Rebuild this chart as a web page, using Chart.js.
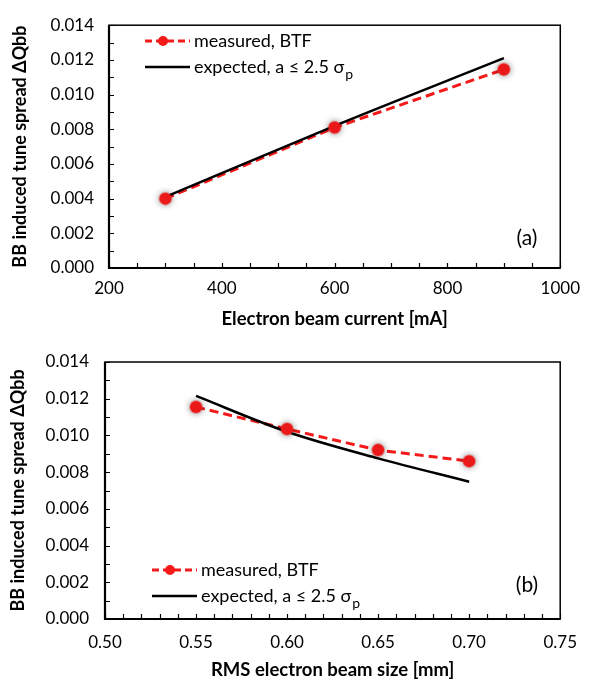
<!DOCTYPE html>
<html>
<head>
<meta charset="utf-8">
<script src="https://cdn.jsdelivr.net/npm/chart.js@4.4.0/dist/chart.umd.min.js"></script>
<style>
  body { margin: 0; background: #fff; }
  canvas { display: block; }
</style>
</head>
<body>
<canvas id="chartA" width="590" height="330"></canvas>
<canvas id="chartB" width="590" height="351"></canvas>
<script>
// ---------- data: panel (a), tune spread vs electron current ----------
const currentA = [300, 600, 900];
const measuredA = [0.0040, 0.0081, 0.01145];
const expectedA = [0.0041, 0.0082, 0.0121];

// ---------- data: panel (b), tune spread vs rms beam size ----------
const sizeB = [0.55, 0.60, 0.65, 0.70];
const measuredB = [0.01155, 0.01035, 0.0092, 0.0086];
const expectedB = [0.01215, 0.0102, 0.00875, 0.00748];

const yTicks = [0, 0.002, 0.004, 0.006, 0.008, 0.010, 0.012, 0.014];
const xTicksA = [200, 400, 600, 800, 1000];
const xTicksB = [0.50, 0.55, 0.60, 0.65, 0.70, 0.75];

const FONT = "Lato, 'Open Sans', sans-serif";
const RED = "#f41a1a";

function pts(xs, ys) {
    return xs.map((x, i) => ({ x: x, y: ys[i] }));
}

// frame, inside ticks, legend and panel label
const framePlugin = {
    id: "frame",
    beforeDatasetDraw(chart, args) {
        if (chart.data.datasets[args.index].glow) {
            const ctx = chart.ctx;
            ctx.save();
            ctx.shadowColor = "rgba(0,0,0,0.45)";
            ctx.shadowBlur = 7;
        }
    },
    afterDatasetDraw(chart, args) {
        if (chart.data.datasets[args.index].glow) chart.ctx.restore();
    },
    afterDraw(chart) {
        const o = chart.options.plugins.frame;
        const ctx = chart.ctx;
        const a = chart.chartArea;
        const xs = chart.scales.x, ys = chart.scales.y;
        ctx.save();
        ctx.strokeStyle = "#000";

        // minor + major ticks, pointing inward
        ctx.lineWidth = 1.2;
        ctx.beginPath();
        for (let v = xs.min; v <= xs.max + 1e-9; v += o.xMinor) {
            const px = Math.round(xs.getPixelForValue(v)) + 0.5;
            ctx.moveTo(px, a.bottom);
            ctx.lineTo(px, a.bottom - 5);
        }
        for (let v = ys.min; v <= ys.max + 1e-9; v += 0.001) {
            const py = Math.round(ys.getPixelForValue(v)) + 0.5;
            ctx.moveTo(a.left, py);
            ctx.lineTo(a.left + 5, py);
        }
        ctx.stroke();

        // plot frame
        ctx.lineWidth = 1.5;
        ctx.strokeRect(a.left, a.top, a.right - a.left, a.bottom - a.top);
        ctx.lineWidth = 2.2;
        ctx.beginPath();
        ctx.moveTo(a.left, a.top);
        ctx.lineTo(a.left, a.bottom);
        ctx.lineTo(a.right, a.bottom);
        ctx.stroke();

        // legend
        const lx = o.legendX, ly = o.legendY;
        ctx.strokeStyle = RED;
        ctx.lineWidth = 3;
        ctx.setLineDash([7, 4]);
        ctx.beginPath();
        ctx.moveTo(lx, ly);
        ctx.lineTo(lx + 45, ly);
        ctx.stroke();
        ctx.setLineDash([]);
        ctx.fillStyle = RED;
        ctx.beginPath();
        ctx.arc(lx + 18, ly, 5, 0, Math.PI * 2);
        ctx.fill();

        ctx.strokeStyle = "#000";
        ctx.lineWidth = 2.5;
        ctx.beginPath();
        ctx.moveTo(lx, ly + 26);
        ctx.lineTo(lx + 45, ly + 26);
        ctx.stroke();

        ctx.fillStyle = "#000";
        ctx.font = "18px " + FONT;
        ctx.textBaseline = "middle";
        ctx.textAlign = "left";
        ctx.fillText("measured, BTF", lx + 49, ly);
        const t2 = "expected, a \u2264 2.5 \u03c3";
        ctx.fillText(t2, lx + 49, ly + 26);
        const w2 = ctx.measureText(t2).width;
        ctx.font = "14px " + FONT;
        ctx.fillText("p", lx + 49 + w2 + 1, ly + 33);

        // panel label
        ctx.font = "21px " + FONT;
        ctx.textAlign = "center";
        ctx.fillText(o.label, o.labelX, o.labelY);
        ctx.restore();
    }
};

function makeChart(id, cfg) {
    return new Chart(document.getElementById(id), {
        type: "scatter",
        data: {
            datasets: [
                {
                    label: "measured, BTF",
                    data: pts(cfg.x, cfg.measured),
                    showLine: true,
                    borderColor: RED,
                    borderWidth: 3,
                    borderDash: [9, 5],
                    pointRadius: 0,
                    order: 3
                },
                {
                    label: "expected",
                    data: pts(cfg.x, cfg.expected),
                    showLine: true,
                    borderColor: "#000",
                    borderWidth: 2.5,
                    pointRadius: 0,
                    cubicInterpolationMode: "monotone",
                    order: 2
                },
                {
                    label: "measured points",
                    data: pts(cfg.x, cfg.measured),
                    showLine: false,
                    glow: true,
                    backgroundColor: RED,
                    borderColor: "rgba(240,40,40,0.35)",
                    borderWidth: 2,
                    pointRadius: 6,
                    order: 1
                }
            ]
        },
        options: {
            responsive: false,
            animation: false,
            layout: { padding: { top: cfg.padTop, right: cfg.padRight, left: 0, bottom: 0 } },
            plugins: {
                legend: { display: false },
                tooltip: { enabled: false },
                frame: cfg.frame
            },
            scales: {
                x: {
                    type: "linear",
                    min: cfg.xTicks[0],
                    max: cfg.xTicks[cfg.xTicks.length - 1],
                    afterBuildTicks: s => { s.ticks = cfg.xTicks.map(v => ({ value: v })); },
                    afterFit: s => { s.height = 62; },
                    grid: { display: false, drawTicks: false },
                    border: { display: false },
                    ticks: {
                        padding: cfg.xPad,
                        color: "#000",
                        font: { family: FONT, size: 17 },
                        callback: v => v.toFixed(cfg.xDigits)
                    },
                    title: {
                        display: true,
                        text: cfg.xTitle,
                        color: "#000",
                        font: { family: FONT, size: 18.5, weight: "bold" },
                        padding: { top: cfg.xTitlePad, bottom: 0 }
                    }
                },
                y: {
                    min: 0,
                    max: 0.014,
                    afterBuildTicks: s => { s.ticks = yTicks.map(v => ({ value: v })); },
                    afterFit: s => { s.width = cfg.yWidth; },
                    grid: { display: false, drawTicks: false },
                    border: { display: false },
                    ticks: {
                        padding: cfg.yPad,
                        color: "#000",
                        font: { family: FONT, size: 17 },
                        callback: v => v.toFixed(3)
                    },
                    title: {
                        display: true,
                        text: "BB induced tune spread \u0394Qbb",
                        color: "#000",
                        font: { family: FONT, size: 18, weight: "bold" },
                        padding: { top: cfg.yTitlePad, bottom: 0 }
                    }
                }
            }
        },
        plugins: [framePlugin]
    });
}

makeChart("chartA", {
    x: currentA, measured: measuredA, expected: expectedA,
    xTicks: xTicksA, xDigits: 0, xTitle: "Electron beam current [mA]",
    padTop: 15, padRight: 21, yWidth: 109, xPad: 10, yPad: 15, xTitlePad: 0, yTitlePad: 9,
    frame: { xMinor: 50, legendX: 145, legendY: 41, label: "(a)", labelX: 527, labelY: 238 }
});

makeChart("chartB", {
    x: sizeB, measured: measuredB, expected: expectedB,
    xTicks: xTicksB, xDigits: 2, xTitle: "RMS electron beam size [mm]",
    padTop: 32, padRight: 24, yWidth: 105, xPad: 13, yPad: 16, xTitlePad: 1, yTitlePad: 7,
    frame: { xMinor: 0.01, legendX: 152, legendY: 240, label: "(b)", labelX: 527, labelY: 255 }
});
</script>
</body>
</html>
